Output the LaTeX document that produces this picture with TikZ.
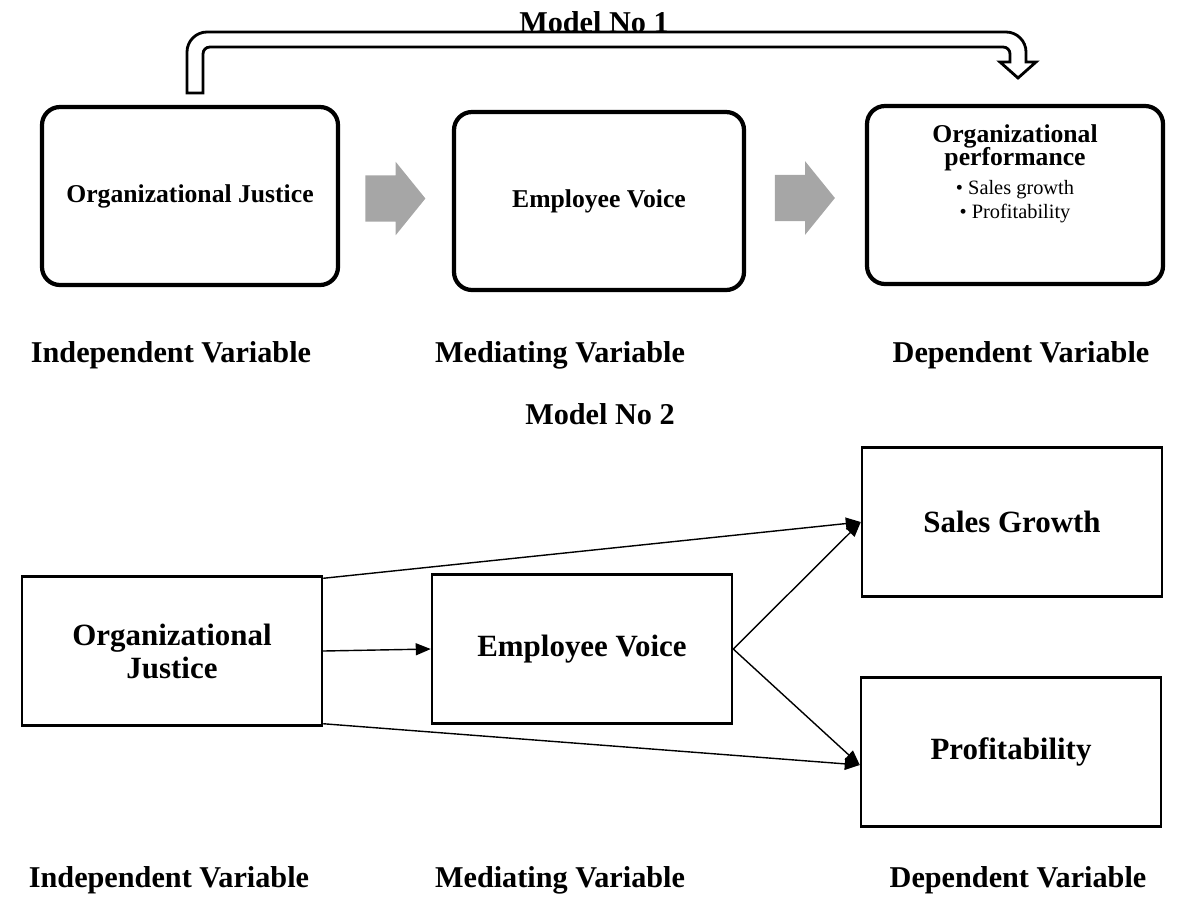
\documentclass[tikz,border=0pt]{standalone}
\usepackage{fontspec}
\setmainfont{Liberation Serif}
\usepackage{tikz}
\usetikzlibrary{calc}
\usetikzlibrary{arrows.meta}
\usetikzlibrary{shapes.arrows}

\tikzset{
  modelbox/.style={draw,line width=1.2pt,rounded corners=1.8mm,minimum width=29.6mm,minimum height=17.8mm,font=\fontsize{7.3}{8.5}\selectfont\bfseries},
  plainbox/.style={draw,line width=0.7pt,minimum width=30mm,minimum height=14.9mm,align=center,font=\fontsize{8.8}{9.4}\selectfont\bfseries},
  varlabel/.style={font=\fontsize{8.6}{10}\selectfont\bfseries},
  optitle/.style={anchor=base,font=\fontsize{7.3}{8.5}\selectfont\bfseries},
  opitem/.style={anchor=base,font=\fontsize{5.8}{7}\selectfont},
  link/.style={-{Triangle[length=1.5mm,width=1.2mm]},line width=0.4pt},
  grayarrow/.style={single arrow,fill=black!35,draw=none,minimum height=6mm,inner xsep=0pt,inner ysep=2.25mm,single arrow head extend=1.35mm,single arrow tip angle=102,xshift=-1mm}
}

\begin{document}
\begin{tikzpicture}[x=0.1mm,y=-0.1mm]
        \useasboundingbox (0,0) rectangle (1189,911);

        % model 1
        \node[modelbox] (oj) at (190,196) {Organizational Justice};
        \node[modelbox,minimum width=29mm] (ev) at (599,201) {Employee Voice};
        \node[modelbox] (op) at (1015,195) {};
        \node[optitle] (op1) at ($(op.north)+(0,39)$) {Organizational};
        \node[optitle] (op2) at ($(op.north)+(0,62)$) {performance};
        \node[opitem] (op3) at ($(op.north)+(0,91)$) {\textbullet\ Sales growth};
        \node[opitem] (op4) at ($(op.north)+(0,115)$) {\textbullet\ Profitability};
        \node[grayarrow] (ga1) at ($(oj.east)!0.5!(ev.west)$) {};
        \node[grayarrow] (ga2) at ($(ev.east)!0.5!(op.west)$) {};

        % bent hollow arrow over the top
        \draw[line width=0.8pt,fill=white] (187,93) -- (187,52) .. controls (187,41) and (196,32) .. (207,32)
            -- (1006,32) .. controls (1017,32) and (1026,41) .. (1026,52) -- (1026,62) -- (1036,62) -- (1018,78)
            -- (1000,62) -- (1010,62) -- (1010,54) .. controls (1010,50) and (1007,47) .. (1003,47)
            -- (210,47) .. controls (206,47) and (203,50) .. (203,54) -- (203,93) -- cycle;
        \node[varlabel,anchor=base] (m1) at (594,32) {Model No 1};

        \node[varlabel] (iv1) at (171,355) {Independent Variable};
        \node[varlabel] (mv1) at (560,355) {Mediating Variable};
        \node[varlabel] (dv1) at (1021,355) {Dependent Variable};

        % model 2
        \node[varlabel] (m2) at (600,414) {Model No 2};
        \node[plainbox] (ja) at (172,651) {Organizational\\Justice};
        \node[plainbox] (ev2) at (582,649) {Employee Voice};
        \node[plainbox] (sg) at (1012,522) {Sales Growth};
        \node[plainbox] (pr) at (1011,752) {Profitability};

        \coordinate (sgin) at (sg.west);
        \coordinate (prin) at ($(pr.west)+(0,13)$);
        \draw[link] ($(ja.north east)+(0,3)$) -- (sgin);
        \draw[link] (ja.east) -- (ev2.west);
        \draw[link] ($(ja.south east)+(0,-3)$) -- (prin);
        \draw[link] (ev2.east) -- (sgin);
        \draw[link] (ev2.east) -- (prin);

        \node[varlabel] (iv2) at (169,880) {Independent Variable};
        \node[varlabel] (mv2) at (560,880) {Mediating Variable};
        \node[varlabel] (dv2) at (1018,880) {Dependent Variable};
    \end{tikzpicture}
\end{document}
